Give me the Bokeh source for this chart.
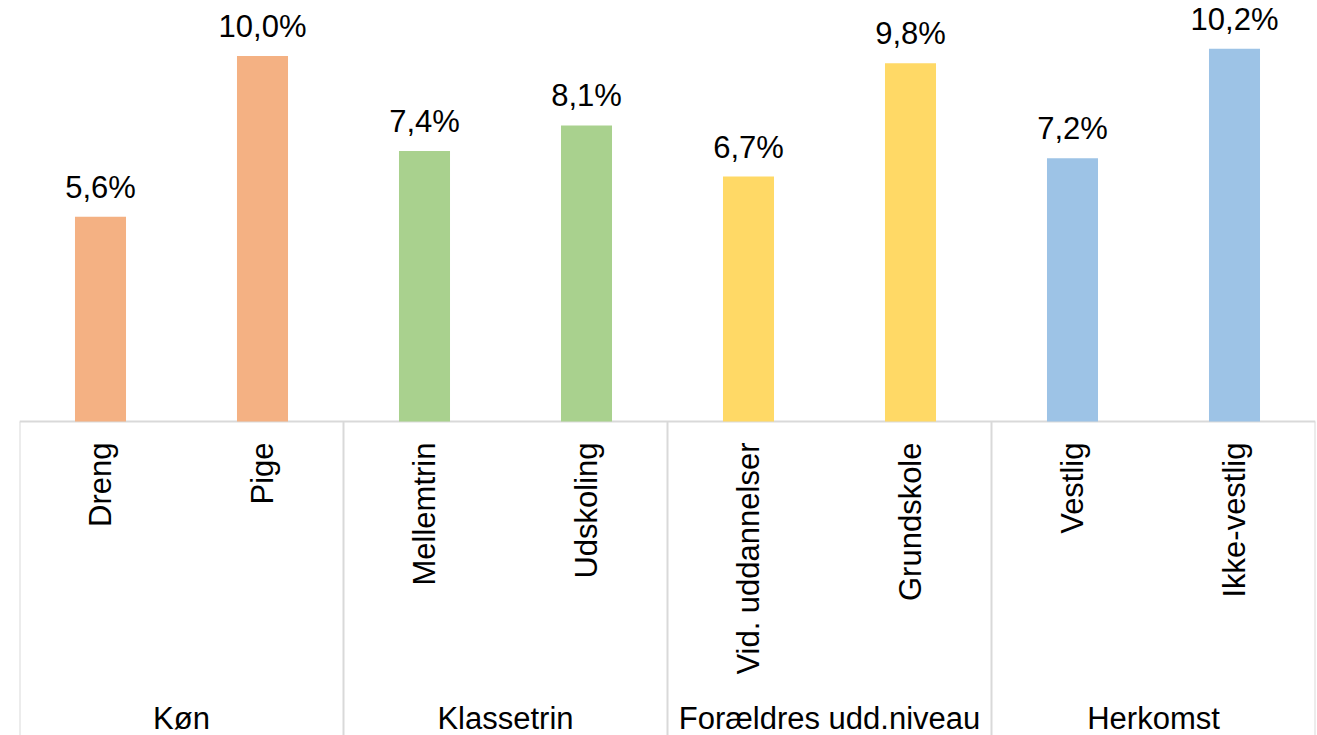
from bokeh.plotting import figure
from bokeh.models import FactorRange, Range1d, ColumnDataSource
from bokeh.core.properties import value
from bokeh.embed import file_html
from bokeh.resources import INLINE

groups = ["Køn", "Køn", "Klassetrin", "Klassetrin",
          "Forældres udd.niveau", "Forældres udd.niveau", "Herkomst", "Herkomst"]
categories = ["Dreng", "Pige", "Mellemtrin", "Udskoling",
              "Vid. uddannelser", "Grundskole", "Vestlig", "Ikke-vestlig"]
values = [5.6, 10.0, 7.4, 8.1, 6.7, 9.8, 7.2, 10.2]
group_names = ["Køn", "Klassetrin", "Forældres udd.niveau", "Herkomst"]
group_colors = {"Køn": "#F4B183", "Klassetrin": "#A9D18E",
                "Forældres udd.niveau": "#FFD966", "Herkomst": "#9DC3E6"}

FONT = value("Liberation Sans")
FS = "31px"
PX_PER_UNIT = 36.55
W, H = 1317, 735
BASE_PX = 421  # baseline position from top of figure

factors = list(zip(groups, categories))
labels = [f"{v:.1f}".replace(".", ",") + "%" for v in values]
colors = [group_colors[g] for g in groups]

src = ColumnDataSource(dict(x=factors, top=values, label=labels, color=colors,
                            cat=categories))

x_range = FactorRange(*factors, factor_padding=0, group_padding=0,
                      subgroup_padding=0, range_padding=0)
y_range = Range1d(-(H - BASE_PX) / PX_PER_UNIT, BASE_PX / PX_PER_UNIT)

p = figure(width=W, height=H, x_range=x_range, y_range=y_range,
           output_backend="svg", toolbar_location=None,
           x_axis_location=None, y_axis_location=None)
p.min_border_left = 19
p.min_border_right = 2
p.min_border_top = 0
p.min_border_bottom = 0
p.outline_line_color = None
p.grid.visible = False
p.background_fill_color = "white"
p.border_fill_color = "white"

# axis box lines (group separators and baseline)
counts = [groups.count(g) for g in group_names]
bounds = [0]
for c in counts:
    bounds.append(bounds[-1] + c)
ybot = y_range.start - 1
p.segment(x0=bounds, y0=[0] * len(bounds), x1=bounds, y1=[ybot] * len(bounds),
          line_color="#D9D9D9", line_width=2)
p.segment(x0=[bounds[0]], y0=[0], x1=[bounds[-1]], y1=[0],
          line_color="#D9D9D9", line_width=2)

p.vbar(x="x", top="top", bottom=0, width=0.315, source=src,
       fill_color="color", line_color=None)

p.text(x="x", y="top", text="label", source=src, text_font=FONT,
       text_font_size=FS, text_color="black", text_align="center",
       text_baseline="bottom", y_offset=-12)

p.text(x="x", y=0, text="cat", source=src, text_font=FONT,
       text_font_size=FS, text_color="black", text_align="right",
       text_baseline="middle", angle=1.5707963, y_offset=21)

p.text(x=group_names, y=[0] * len(group_names), text=group_names,
       text_font=FONT, text_font_size=FS, text_color="black",
       text_align="center", text_baseline="bottom", y_offset=314)

open("out.html", "w").write(file_html(p, INLINE))
